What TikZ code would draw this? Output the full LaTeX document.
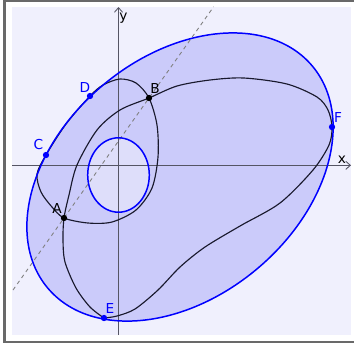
\documentclass[tikz,border=0pt]{standalone}
\usepackage{fontspec}
\newfontfamily\lblfont{DejaVu Sans}
\usepackage{tikz}
\usetikzlibrary{arrows.meta, calc}
\definecolor{ggblue}{RGB}{0,0,255}
\definecolor{ggdark}{RGB}{25,25,45}
\definecolor{ggaxis}{RGB}{85,85,100}
\definecolor{ggpanel}{RGB}{240,240,253}
\definecolor{ggfill}{RGB}{203,203,250}
\definecolor{gghole}{RGB}{222,222,250}
\definecolor{ggframe}{RGB}{105,105,105}
\tikzset{
  bluecurve/.style={draw=ggblue, line width=0.85pt},
  blackcurve/.style={draw=ggdark, line width=0.65pt},
  axis/.style={draw=ggaxis, line width=0.5pt,
    -{Straight Barb[length=2.6pt, width=4.6pt]}},
  helper/.style={draw=gray, line width=0.5pt, dash pattern=on 2.2pt off 2pt},
  bluept/.style={circle, fill=ggblue, inner sep=0pt, minimum size=3.6pt},
  blackpt/.style={circle, fill=black, inner sep=0pt, minimum size=3.6pt},
  bluelbl/.style={text=ggblue, inner sep=0pt, font=\lblfont\fontsize{7.8}{9}\selectfont},
  blacklbl/.style={text=black, inner sep=0pt, font=\lblfont\fontsize{7.8}{9}\selectfont}
}

\begin{document}
\begin{tikzpicture}[x=0.02cm, y=-0.02cm]
  \useasboundingbox (0,0) rectangle (354,343);
  \draw[ggframe, line width=1.2pt] (4.5,0.5) rectangle (360,341.8);
  \fill[ggpanel] (12,7) rectangle (351,335);

  % points
  \coordinate (A) at (64,218);
  \coordinate (B) at (149,98);
  \coordinate (C) at (46,155);
  \coordinate (D) at (90,96);
  \coordinate (E) at (104,318);
  \coordinate (F) at (332,127);

  % region
  \fill[ggfill, rotate around={40:(180,177)}] (180,177) ellipse [x radius=172.7, y radius=119.9];
  \fill[gghole] (118.5,175) ellipse [x radius=30.8, y radius=37.2];

  % axes
  \coordinate (xfrom) at (12,165.3);
  \coordinate (xto) at (351,165.3);
  \coordinate (yfrom) at (118.5,335);
  \coordinate (yto) at (118.5,7);
  \draw[axis] (xfrom) -- (xto);
  \draw[axis] (yfrom) -- (yto);
  \node[blacklbl] (xlab) at (342,160) {x};
  \node[blacklbl] (ylab) at (123.5,18) {y};

  \draw[helper] ($(A)!-0.6!(B)$) -- ($(A)!1.76!(B)$);

  % black curves
  \draw[blackcurve] plot[smooth cycle] coordinates {(C) (66,124) (D) (103,85) (120,79)
    (136,83) (B) (157,125) (158,157) (152,188) (136,210) (112,222) (88,223) (A)
    (52,207) (41,192) (37,174)};
  \draw[blackcurve] plot[smooth] coordinates {(E) (90,307) (76,288) (65,262) (63,240) (A)
    (69,195) (77,165) (97,130) (120,110) (B) (177,86) (210,80) (244,78) (287,84)
    (317,97) (328,110) (F) (329,145) (313,170) (280,203) (240,226) (205,247)
    (180,267) (158,290) (135,309) (117,316) (E)};

  % blue curves
  \draw[bluecurve, rotate around={40:(180,177)}] (180,177) ellipse [x radius=172.7, y radius=119.9];
  \draw[bluecurve] (118.5,175) ellipse [x radius=30.8, y radius=37.2];

  % dots and labels
  \node[blackpt] (ptA) at (A) {};
  \node[blackpt] (ptB) at (B) {};
  \node[bluept] (ptC) at (C) {};
  \node[bluept] (ptD) at (D) {};
  \node[bluept] (ptE) at (E) {};
  \node[bluept] (ptF) at (F) {};
  \node[blacklbl] (lblA) at (57,208) {A};
  \node[blacklbl] (lblB) at (155,88) {B};
  \node[bluelbl] (lblC) at (38.5,144.5) {C};
  \node[bluelbl] (lblD) at (85,87) {D};
  \node[bluelbl] (lblE) at (110,308) {E};
  \node[bluelbl] (lblF) at (338,117) {F};
\end{tikzpicture}
\end{document}
